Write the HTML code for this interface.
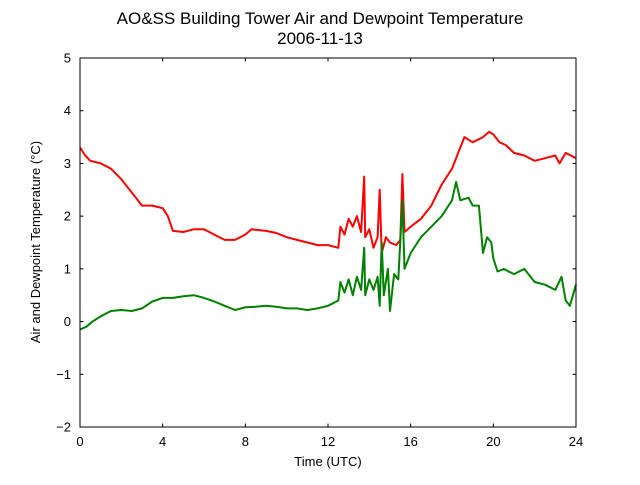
<!DOCTYPE html>
<html><head><meta charset="utf-8"><style>
body{margin:0;background:#fff;font-family:"Liberation Sans","DejaVu Sans",sans-serif;}
</style></head><body>
<svg id="c" width="640" height="480" xmlns="http://www.w3.org/2000/svg" font-family="Liberation Sans, DejaVu Sans, sans-serif">
<rect width="640" height="480" fill="#fff"/>
<text x="320" y="24" text-anchor="middle" font-size="17">AO&amp;SS Building Tower Air and Dewpoint Temperature</text>
<text x="320" y="44" text-anchor="middle" font-size="17">2006-11-13</text>
<text x="328" y="466" text-anchor="middle" font-size="13">Time (UTC)</text>
<text transform="translate(40,242) rotate(-90)" text-anchor="middle" font-size="13">Air and Dewpoint Temperature (°C)</text>
<g id="ticks"></g>
<g id="series"></g>
<rect x="80" y="58" width="496" height="369" fill="none" stroke="#000" stroke-width="1"/>
</svg>
<script>
const xTicks=[0,4,8,12,16,20,24];
const yTicks=[-2,-1,0,1,2,3,4,5];
const airT=[0,0.25,0.5,1,1.5,2,2.5,3,3.5,4,4.25,4.5,5,5.5,6,6.5,7,7.5,8,8.3,9,9.5,10,10.5,11,11.5,12,12.5,12.6,12.8,13,13.2,13.4,13.6,13.75,13.8,14,14.2,14.4,14.5,14.6,14.8,15,15.3,15.5,15.6,15.7,16,16.5,17,17.5,18,18.3,18.6,19,19.5,19.8,20,20.3,20.6,21,21.5,22,22.5,23,23.2,23.5,24];
const airV=[3.3,3.15,3.05,3.0,2.9,2.7,2.45,2.2,2.2,2.15,2.0,1.72,1.7,1.75,1.75,1.65,1.55,1.55,1.65,1.75,1.72,1.68,1.6,1.55,1.5,1.45,1.45,1.4,1.8,1.65,1.95,1.8,2.0,1.7,2.75,1.6,1.75,1.4,1.6,2.5,1.3,1.6,1.5,1.45,1.55,2.8,1.7,1.8,1.95,2.2,2.6,2.9,3.2,3.5,3.4,3.5,3.6,3.55,3.4,3.35,3.2,3.15,3.05,3.1,3.15,3.0,3.2,3.1];
const dewT=[0,0.3,0.6,1,1.5,2,2.5,3,3.5,4,4.5,5,5.5,6,6.5,7,7.5,8,8.5,9,9.5,10,10.5,11,11.5,12,12.5,12.6,12.8,13,13.2,13.4,13.6,13.75,13.8,14,14.2,14.4,14.5,14.6,14.7,14.9,15,15.2,15.4,15.6,15.7,16,16.5,17,17.5,18,18.2,18.4,18.8,19,19.3,19.5,19.7,19.9,20,20.2,20.5,21,21.5,21.8,22,22.5,23,23.3,23.5,23.7,24];
const dewV=[-0.15,-0.1,0.0,0.1,0.2,0.22,0.2,0.25,0.38,0.45,0.45,0.48,0.5,0.45,0.38,0.3,0.22,0.27,0.28,0.3,0.28,0.25,0.25,0.22,0.25,0.3,0.4,0.75,0.55,0.8,0.5,0.85,0.6,1.4,0.5,0.8,0.6,0.85,0.3,1.5,0.5,1.0,0.2,0.9,0.8,2.3,1.0,1.3,1.6,1.8,2.0,2.3,2.65,2.3,2.35,2.2,2.2,1.3,1.6,1.5,1.2,0.95,1.0,0.9,1.0,0.85,0.75,0.7,0.6,0.85,0.4,0.3,0.7];
const X=v=>80+v/24*496;
const Y=v=>427-(v+2)/7*369;
const NS="http://www.w3.org/2000/svg";
const tg=document.getElementById('ticks');
function mk(t,a,p){const e=document.createElementNS(NS,t);for(const k in a)e.setAttribute(k,a[k]);p.appendChild(e);return e;}
xTicks.forEach(v=>{
  const l=mk('line',{x1:X(v),x2:X(v),y1:427,y2:423.5,stroke:'#000'},tg);
  
  
  const l2=mk('line',{x1:X(v),x2:X(v),y1:58,y2:61.5,stroke:'#000'},tg);
  
  
  const t=mk('text',{x:X(v),y:446,'text-anchor':'middle','font-size':13},tg);t.textContent=v;
  
  
});
yTicks.forEach(v=>{
  const l=mk('line',{x1:80,x2:83.5,y1:Y(v),y2:Y(v),stroke:'#000'},tg);
  
  
  const l2=mk('line',{x1:572.5,x2:576,y1:Y(v),y2:Y(v),stroke:'#000'},tg);
  
  
  const t=mk('text',{x:71,y:Y(v)+4.5,'text-anchor':'end','font-size':13},tg);t.textContent=(v<0?'\u2212'+(-v):v);
  
  
});
const sg=document.getElementById('series');
function line(ts,vs,col,name){
  const d=ts.map((t,i)=>(i?'L':'M')+X(t).toFixed(1)+' '+Y(vs[i]).toFixed(1)).join(' ');
  const p=mk('path',{d:d,fill:'none',stroke:col,'stroke-width':2,'stroke-linejoin':'round'},sg);
  
  
}
line(airT,airV,'#ff0000','air-temperature-line');
line(dewT,dewV,'#008000','dewpoint-temperature-line');
</script>
</body></html>
